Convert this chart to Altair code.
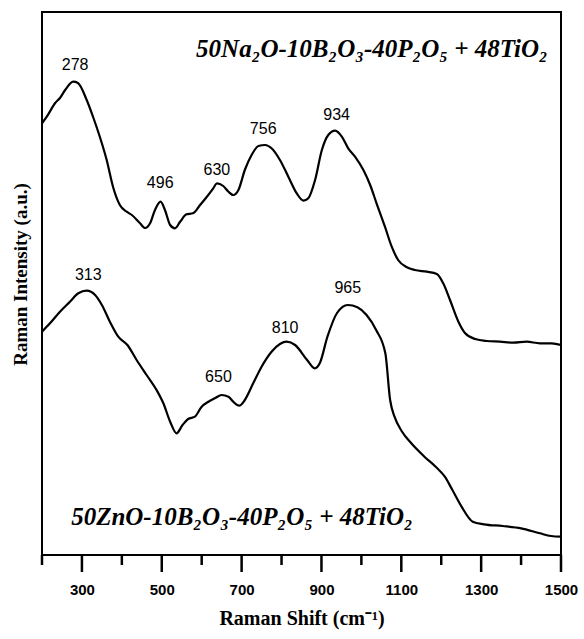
import altair as alt
import pandas as pd

# Upper spectrum: 50Na2O-10B2O3-40P2O5 + 48TiO2
upper_x = [200, 212, 233, 245, 258, 278, 290, 312, 328, 345, 362, 378, 395, 412, 425, 445, 458, 471, 483, 497,
           508, 521, 533, 546, 562, 578, 596, 613, 629, 638, 654, 667, 679, 692, 708, 725, 742, 759, 775, 796,
           817, 838, 855, 867, 884, 901, 917, 934, 951, 967, 984, 1005, 1022, 1038, 1059, 1076, 1092, 1114, 1134,
           1164, 1189, 1205, 1222, 1243, 1260, 1285, 1314, 1347, 1381, 1414, 1447, 1477, 1500]
upper_y = [431.7, 438.3, 452, 457, 465, 473.3, 472, 455, 438, 418, 395, 368, 350, 343.3, 340, 332, 327, 332, 345, 353.3,
           345, 330, 326.7, 333.3, 340.7, 341.7, 350, 358.3, 366.7, 371.7, 369, 363.3, 360, 365, 385, 400, 409, 410, 406.7, 395,
           378.3, 361.7, 354.3, 356.7, 375, 405, 420, 424.3, 418.3, 406.7, 398.3, 385, 370, 351.7, 328.3, 308.3, 295, 287.7, 285,
           283.3, 281, 271.7, 255, 233.3, 221.7, 216, 214, 213.3, 212.3, 213.3, 211.7, 211.7, 210]

# Lower spectrum: 50ZnO-10B2O3-40P2O5 + 48TiO2
lower_x = [200, 220, 245, 270, 291, 312, 333, 350, 370, 391, 414, 437, 462, 487, 504, 521, 537, 552, 566, 583,
           600, 617, 633, 650, 667, 679, 694, 708, 729, 750, 775, 796, 813, 834, 864, 883, 896, 915, 939, 966,
           990, 1013, 1037, 1060, 1072, 1083, 1102, 1125, 1158, 1186, 1209, 1228, 1251, 1279, 1307, 1354, 1400,
           1447, 1475, 1500]
lower_y = [223.3, 231.7, 243.3, 253.3, 261.7, 264.3, 260, 250, 233.3, 218.3, 210, 195, 180, 165, 151.7, 133.3, 121.7, 130, 136, 138.3,
           148.3, 153.3, 156.7, 160, 158.3, 153.3, 149.3, 155, 171.7, 188.3, 203.3, 211, 213.3, 210, 195, 186.7, 192, 218.3, 242, 250,
           247.7, 240, 225, 201.7, 155, 138.3, 123.3, 111.7, 98.3, 88.3, 78.3, 65, 48.3, 33.3, 30.7, 29, 26.7,
           21.7, 19, 18.3]

# Peak labels
peak_text = ["278", "496", "630", "756", "934", "313", "650", "810", "965"]
peak_x = [283, 496, 638, 754, 938, 316, 642, 809, 966]
peak_y = [490, 372, 385, 426, 440, 280, 178, 227, 267]

# Sample names
name_text = ["50Na₂O-10B₂O₃-40P₂O₅ + 48TiO₂", "50ZnO-10B₂O₃-40P₂O₅ + 48TiO₂"]
name_x = [1467, 273]
name_y = [498, 30]
name_align = ["right", "left"]

major_ticks = [300, 500, 700, 900, 1100, 1300, 1500]
minor_ticks = [200, 400, 600, 800, 1000, 1200, 1400]

X_MIN, X_MAX = 200, 1500
Y_MIN, Y_MAX = 0, 543
MAJOR_LEN, MINOR_LEN = 17, 10

df = pd.concat([
    pd.DataFrame({"x": upper_x, "y": upper_y, "s": "upper"}),
    pd.DataFrame({"x": lower_x, "y": lower_y, "s": "lower"}),
])
peaks = pd.DataFrame({"x": peak_x, "y": peak_y, "t": peak_text})
names = pd.DataFrame({"x": name_x, "y": name_y, "t": name_text, "a": name_align})

# frame (box) built from the axis limits
frame = pd.DataFrame({
    "x": [X_MIN, X_MIN, X_MIN, X_MAX],
    "x2": [X_MAX, X_MAX, X_MIN, X_MAX],
    "y": [Y_MIN, Y_MAX, Y_MIN, Y_MIN],
    "y2": [Y_MIN, Y_MAX, Y_MAX, Y_MAX],
})
# tick marks as short vertical segments below the frame
ticks = pd.DataFrame({
    "x": major_ticks + minor_ticks,
    "x2": major_ticks + minor_ticks,
    "y": [Y_MIN - MAJOR_LEN] * len(major_ticks) + [Y_MIN - MINOR_LEN] * len(minor_ticks),
    "y2": [Y_MIN] * (len(major_ticks) + len(minor_ticks)),
})

xscale = alt.Scale(domain=[X_MIN, X_MAX], nice=False, zero=False)
yscale = alt.Scale(domain=[Y_MIN - MAJOR_LEN, Y_MAX], nice=False, zero=False)

xaxis = alt.Axis(
    values=major_ticks, orient="bottom", format="d",
    ticks=False, tickSize=0,
    labelFont="Liberation Sans", labelFontWeight="bold", labelFontSize=15, labelColor="black",
    labelPadding=10, labelOverlap=False, labelFlush=False,
    domain=False, grid=False,
    title="Raman Shift (cm⁻¹)", titleFont="Liberation Serif", titleFontWeight="bold",
    titleFontSize=20, titleColor="black", titlePadding=11,
)
yaxis = alt.Axis(
    labels=False, ticks=False, domain=False, grid=False,
    title="Raman Intensity (a.u.)", titleFont="Liberation Serif", titleFontWeight="bold",
    titleFontSize=19, titleColor="black", titlePadding=12, titleY=262,
)

lines = alt.Chart(df).mark_line(color="black", strokeWidth=2.2, interpolate="monotone").encode(
    x=alt.X("x:Q", scale=xscale, axis=xaxis),
    y=alt.Y("y:Q", scale=yscale, axis=yaxis),
    detail="s:N",
)

box = alt.Chart(frame).mark_rule(color="black", strokeWidth=2, strokeCap="square").encode(
    x=alt.X("x:Q", scale=xscale), x2="x2:Q",
    y=alt.Y("y:Q", scale=yscale), y2="y2:Q",
)
tick_marks = alt.Chart(ticks).mark_rule(color="black", strokeWidth=2.5).encode(
    x=alt.X("x:Q", scale=xscale), x2="x2:Q",
    y=alt.Y("y:Q", scale=yscale), y2="y2:Q",
)

peak_labels = alt.Chart(peaks).mark_text(font="Liberation Sans", fontSize=16, color="black", baseline="middle").encode(
    x=alt.X("x:Q", scale=xscale),
    y=alt.Y("y:Q", scale=yscale),
    text="t:N",
)

name_right = alt.Chart(names[names.a == "right"]).mark_text(
    font="Liberation Serif", fontSize=25, fontWeight="bold", fontStyle="italic", color="black",
    align="right", baseline="alphabetic").encode(
    x=alt.X("x:Q", scale=xscale), y=alt.Y("y:Q", scale=yscale), text="t:N")
name_left = alt.Chart(names[names.a == "left"]).mark_text(
    font="Liberation Serif", fontSize=25, fontWeight="bold", fontStyle="italic", color="black",
    align="left", baseline="alphabetic").encode(
    x=alt.X("x:Q", scale=xscale), y=alt.Y("y:Q", scale=yscale), text="t:N")

chart = alt.layer(lines, box, tick_marks, peak_labels, name_right, name_left).properties(
    width=519, height=560, autosize="none",
    padding={"left": 42, "top": 12, "right": 23, "bottom": 67},
).configure_view(strokeWidth=0)

chart.save("out.html", embed_options={"renderer": "svg", "actions": False})
